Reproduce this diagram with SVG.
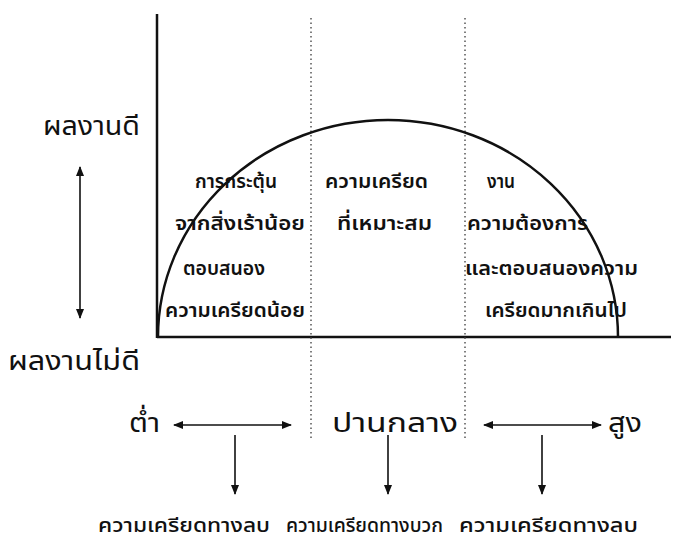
<svg xmlns="http://www.w3.org/2000/svg" width="673" height="544" viewBox="0 0 673 544">
<defs>
<marker id="ah" viewBox="0 0 10 10" refX="9" refY="5" markerWidth="10" markerHeight="10" markerUnits="userSpaceOnUse" orient="auto-start-reverse">
<path d="M0,1 L10,5 L0,9 Z" fill="#111"/>
</marker>
<style>
text{font-family:"Noto Sans Thai","Noto Sans","DejaVu Sans",sans-serif;fill:#111}
.big{font-size:27px}
.sm{font-size:20px;font-weight:600}
.out{font-size:20px;font-weight:500}
.axis{stroke:#111;stroke-width:2.5;fill:none}
.dot{stroke:#555;stroke-width:1.5;stroke-dasharray:1.5 3;fill:none}
.arr{stroke:#111;stroke-width:1.6;fill:none}
</style>
</defs>
<rect width="673" height="544" fill="#fff"/>
<g id="axes">
<line class="axis" x1="157" y1="14" x2="157" y2="338"/>
<line class="axis" x1="157" y1="337" x2="671" y2="337"/>
</g>
<g id="dividers">
<line class="dot" x1="311" y1="18" x2="311" y2="440"/>
<line class="dot" x1="465" y1="18" x2="465" y2="440"/>
</g>
<g id="curve">
<path class="axis" d="M158,337 A230,217 0 0 1 618,337"/>
</g>
<g id="labels-y">
<text class="big" x="43" y="135" textLength="97" lengthAdjust="spacingAndGlyphs">ผลงานดี</text>
<text class="big" x="8" y="370" textLength="132" lengthAdjust="spacingAndGlyphs">ผลงานไม่ดี</text>
</g>
<g id="low-zone">
<text class="sm" x="195" y="188" textLength="82" lengthAdjust="spacingAndGlyphs">การกระตุ้น</text>
<text class="sm" x="175" y="230" textLength="130" lengthAdjust="spacingAndGlyphs">จากสิ่งเร้าน้อย</text>
<text class="sm" x="183" y="275" textLength="82" lengthAdjust="spacingAndGlyphs">ตอบสนอง</text>
<text class="sm" x="165" y="317" textLength="140" lengthAdjust="spacingAndGlyphs">ความเครียดน้อย</text>
</g>
<g id="mid-zone">
<text class="sm" x="325" y="188" textLength="103" lengthAdjust="spacingAndGlyphs">ความเครียด</text>
<text class="sm" x="337" y="230" textLength="95" lengthAdjust="spacingAndGlyphs">ที่เหมาะสม</text>
</g>
<g id="high-zone">
<text class="sm" x="487" y="188" textLength="28" lengthAdjust="spacingAndGlyphs">งาน</text>
<text class="sm" x="467" y="230" textLength="121" lengthAdjust="spacingAndGlyphs">ความต้องการ</text>
<text class="sm" x="465" y="275" textLength="173" lengthAdjust="spacingAndGlyphs">และตอบสนองความ</text>
<text class="sm" x="485" y="317" textLength="142" lengthAdjust="spacingAndGlyphs">เครียดมากเกินไป</text>
</g>
<g id="levels">
<text class="big" x="129" y="432" textLength="31" lengthAdjust="spacingAndGlyphs">ต่ำ</text>
<text class="big" x="332" y="432" textLength="126" lengthAdjust="spacingAndGlyphs">ปานกลาง</text>
<text class="big" x="608" y="432" textLength="34" lengthAdjust="spacingAndGlyphs">สูง</text>
</g>
<g id="outcomes">
<text class="out" x="98" y="532" textLength="172" lengthAdjust="spacingAndGlyphs">ความเครียดทางลบ</text>
<text class="out" x="286" y="532" textLength="157" lengthAdjust="spacingAndGlyphs">ความเครียดทางบวก</text>
<text class="out" x="459" y="532" textLength="179" lengthAdjust="spacingAndGlyphs">ความเครียดทางลบ</text>
</g>
<g id="connectors">
<line class="arr" x1="80" y1="167" x2="80" y2="318" marker-start="url(#ah)" marker-end="url(#ah)"/>
<line class="arr" x1="174" y1="425" x2="291" y2="425" marker-start="url(#ah)" marker-end="url(#ah)"/>
<line class="arr" x1="484" y1="425" x2="601" y2="425" marker-start="url(#ah)" marker-end="url(#ah)"/>
<line class="arr" x1="235" y1="435" x2="235" y2="494" marker-end="url(#ah)"/>
<line class="arr" x1="388" y1="435" x2="388" y2="494" marker-end="url(#ah)"/>
<line class="arr" x1="542" y1="435" x2="542" y2="494" marker-end="url(#ah)"/>
</g>
</svg>
